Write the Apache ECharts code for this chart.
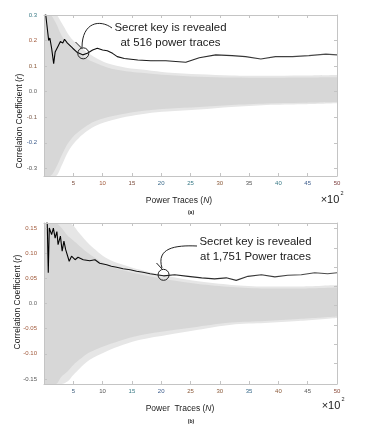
<!DOCTYPE html>
<html>
<head>
<meta charset="utf-8">
<script src="https://cdn.jsdelivr.net/npm/echarts@6/dist/echarts.min.js"></script>
<style>
  html, body { margin: 0; padding: 0; background: #fff; }
  #chart { width: 375px; height: 428px; }
</style>
</head>
<body>
<div id="chart"></div>
<script>
// x axis: power traces, in units of 10^2
var xTicks = [5, 10, 15, 20, 25, 30, 35, 40, 45, 50];
var yTicksA = [-0.3, -0.2, -0.1, 0, 0.1, 0.2, 0.3];
var yTicksB = [-0.15, -0.10, -0.05, 0, 0.05, 0.10, 0.15];
var yTicksBRight = [0.15, 0.11, 0.072, 0.035, -0.003, -0.043, -0.081, -0.119];

// (a) correct key trace
var traceA_N = [0.2, 0.5, 0.8, 1.0, 1.3, 1.65, 1.9, 2.1, 2.4, 2.8, 3.2, 3.5, 4.0, 4.9, 5.7, 6.6, 7.4, 8.3, 9.1, 10, 10.8, 11.7, 12.5, 13.7, 16, 18.2, 20.8, 22.5, 24.2, 26.5, 29.3, 32.1, 34.4, 37, 39.5, 42.4, 45.2, 48.1, 50];
var traceA_r = [0.32, 0.26, 0.2, 0.21, 0.17, 0.11, 0.155, 0.15, 0.178, 0.196, 0.19, 0.205, 0.19, 0.17, 0.153, 0.144, 0.15, 0.163, 0.17, 0.163, 0.16, 0.15, 0.137, 0.13, 0.124, 0.121, 0.121, 0.118, 0.115, 0.133, 0.144, 0.141, 0.137, 0.128, 0.137, 0.137, 0.141, 0.147, 0.144];
// (a) wrong key hypotheses: envelope of the grey traces
var envA_N = [0, 1, 2, 3, 4, 5, 6, 7, 8.5, 10.8, 14, 17.5, 21, 26.5, 32, 38, 44, 50];
var envA_outerHi = [0.3, 0.3, 0.3, 0.27, 0.23, 0.2, 0.18, 0.16, 0.137, 0.111, 0.094, 0.085, 0.075, 0.068, 0.063, 0.062, 0.063, 0.065];
var envA_outerLo = [-0.33, -0.33, -0.33, -0.29, -0.24, -0.205, -0.18, -0.16, -0.137, -0.117, -0.098, -0.085, -0.078, -0.07, -0.06, -0.052, -0.049, -0.045];
var envA_innerHi = [0.3, 0.3, 0.27, 0.22, 0.19, 0.165, 0.148, 0.133, 0.115, 0.095, 0.08, 0.072, 0.065, 0.058, 0.055, 0.054, 0.055, 0.056];
var envA_innerLo = [-0.33, -0.33, -0.3, -0.25, -0.205, -0.175, -0.155, -0.138, -0.118, -0.1, -0.085, -0.074, -0.067, -0.06, -0.052, -0.046, -0.043, -0.04];
var revealA = [6.7, 0.15];

// (b) correct key trace
var traceB_N = [0.4, 0.56, 0.73, 0.9, 1.3, 1.6, 1.9, 2.2, 2.4, 2.8, 3.1, 3.4, 3.7, 4.3, 4.7, 5.0, 5.3, 5.8, 6.7, 7.8, 8.7, 9.5, 10.7, 11.5, 12.4, 13.5, 14.7, 15.8, 16.9, 18.1, 19.2, 20.4, 22.3, 24.6, 26.9, 29.1, 31.1, 32.8, 34.8, 37.1, 39.4, 41.6, 43.9, 46.2, 48.4, 50];
var traceB_r = [0.17, 0.157, 0.061, 0.15, 0.137, 0.15, 0.13, 0.143, 0.117, 0.134, 0.104, 0.124, 0.107, 0.084, 0.094, 0.097, 0.087, 0.092, 0.087, 0.085, 0.087, 0.08, 0.077, 0.074, 0.072, 0.069, 0.067, 0.064, 0.062, 0.059, 0.057, 0.055, 0.057, 0.054, 0.051, 0.049, 0.051, 0.046, 0.054, 0.057, 0.053, 0.056, 0.057, 0.061, 0.059, 0.061];
var envB_N = [0, 1, 2, 3, 4, 5, 6, 7.8, 10.7, 13.5, 16.4, 21.2, 26.3, 32, 37.7, 43.4, 50];
var envB_outerHi = [0.16, 0.16, 0.16, 0.16, 0.16, 0.155, 0.14, 0.117, 0.09, 0.077, 0.067, 0.054, 0.044, 0.037, 0.034, 0.034, 0.037];
var envB_outerLo = [-0.16, -0.16, -0.16, -0.16, -0.155, -0.142, -0.13, -0.112, -0.095, -0.082, -0.072, -0.062, -0.052, -0.042, -0.039, -0.035, -0.029];
var envB_innerHi = [0.16, 0.16, 0.16, 0.15, 0.135, 0.125, 0.115, 0.098, 0.077, 0.066, 0.058, 0.047, 0.039, 0.033, 0.03, 0.03, 0.032];
var envB_innerLo = [-0.16, -0.16, -0.16, -0.145, -0.135, -0.122, -0.112, -0.097, -0.083, -0.072, -0.063, -0.054, -0.046, -0.038, -0.035, -0.031, -0.026];
var revealB = [20.4, 0.057];

var FONT = "'Liberation Sans', Arial, sans-serif";
var boxColor = "#c4c4c4";

// jpeg-ish colour tint of the tick labels in the original figure
var tintA_x = { 5: "#7a4a3a", 10: "#a0583a", 15: "#7a4a3a", 20: "#3a6a8a", 25: "#3a7a86", 30: "#8a5a3a", 35: "#555", 40: "#3a7a86", 45: "#3a5a8a", 50: "#7a3a3a" };
var tintB_x = { 5: "#3a5a7a", 10: "#555", 15: "#3a7a86", 20: "#3a5a8a", 25: "#8a5a3a", 30: "#8a5a3a", 35: "#3a6a8a", 40: "#8a5a3a", 45: "#555", 50: "#8a4a3a" };
var tintA_y = { "0.3": "#3a7a86", "0.2": "#a0583a", "0.1": "#8a5a3a", "0.0": "#666", "-0.1": "#7a5a4a", "-0.2": "#3a5a8a", "-0.3": "#555" };
var tintB_y = { "0.15": "#a0583a", "0.10": "#a0583a", "0.05": "#9a5030", "0.0": "#666", "-0.05": "#a0583a", "-0.10": "#a0583a", "-0.15": "#555" };

function pairs(xs, ys) {
  var out = [];
  for (var i = 0; i < xs.length; i++) out.push([xs[i], ys[i]]);
  return out;
}
function richFor(map) {
  var rich = {};
  var k = 0;
  for (var key in map) {
    rich["c" + k] = { color: map[key], fontSize: 6, fontFamily: FONT };
    k++;
  }
  return rich;
}
function tinted(map, txt) {
  var keys = Object.keys(map);
  var i = keys.indexOf(txt);
  return i < 0 ? txt : "{c" + i + "|" + txt + "}";
}

function xAxes(gridIndex, tint) {
  return [
    {
      type: "value", gridIndex: gridIndex, min: 0, max: 50, interval: 5, z: 10,
      axisLine: { onZero: false, lineStyle: { color: boxColor } },
      axisTick: { inside: true, length: 3, lineStyle: { color: boxColor } },
      axisLabel: {
        fontSize: 6, fontFamily: FONT, color: "#555", margin: 4,
        showMinLabel: false, rich: richFor(tint),
        formatter: function (v) { return v === 0 ? "" : tinted(tint, String(v)); }
      },
      splitLine: { show: false }
    },
    {
      type: "value", gridIndex: gridIndex, position: "top", min: 0, max: 50, interval: 5, z: 10,
      axisLine: { onZero: false, lineStyle: { color: boxColor } },
      axisTick: { inside: true, length: 3, lineStyle: { color: boxColor } },
      axisLabel: { show: false },
      splitLine: { show: false }
    }
  ];
}

function yAxes(gridIndex, min, max, ticks, rightTicks, fmt, tint) {
  return [
    {
      type: "value", gridIndex: gridIndex, min: min, max: max, z: 10,
      axisLine: { show: true, onZero: false, lineStyle: { color: boxColor } },
      axisTick: { show: true, inside: true, length: 3, customValues: ticks, lineStyle: { color: boxColor } },
      axisLabel: {
        fontSize: 6, fontFamily: FONT, color: "#555", margin: 7,
        customValues: ticks, rich: richFor(tint),
        formatter: function (v) { return tinted(tint, fmt(v)); }
      },
      splitLine: { show: false }
    },
    {
      type: "value", gridIndex: gridIndex, position: "right", min: min, max: max, z: 10,
      axisLine: { show: true, onZero: false, lineStyle: { color: boxColor } },
      axisTick: { show: true, inside: true, length: 3, customValues: rightTicks, lineStyle: { color: boxColor } },
      axisLabel: { show: false },
      splitLine: { show: false }
    }
  ];
}

// filled from a curve down to the bottom of the plot; layered to build the band
function fillDown(xi, yi, xs, ys, color) {
  return {
    type: "line", xAxisIndex: xi, yAxisIndex: yi, symbol: "none", silent: true,
    smooth: 0.3,
    lineStyle: { width: 0, opacity: 0 },
    areaStyle: { color: color, opacity: 1, origin: "start" },
    data: pairs(xs, ys), z: 1
  };
}

function bandLayers(xi, yi, xs, outerHi, innerHi, innerLo, outerLo) {
  return [
    fillDown(xi, yi, xs, outerHi, "#e6e6e6"),
    fillDown(xi, yi, xs, innerHi, "#d7d7d7"),
    fillDown(xi, yi, xs, innerLo, "#e6e6e6"),
    fillDown(xi, yi, xs, outerLo, "#ffffff")
  ];
}

function traceSeries(xi, yi, xs, ys, reveal) {
  return {
    type: "line", xAxisIndex: xi, yAxisIndex: yi, symbol: "none", silent: true,
    lineStyle: {
      width: 1.1,
      color: new echarts.graphic.LinearGradient(0, 0, 1, 0, [
        { offset: 0, color: "#000" },
        { offset: 1, color: "#505050" }
      ])
    },
    data: pairs(xs, ys),
    z: 3,
    markPoint: {
      symbol: "circle", symbolSize: 11, silent: true,
      itemStyle: { color: "rgba(0,0,0,0)", borderColor: "#222", borderWidth: 1 },
      label: { show: false },
      data: [{ coord: reveal }]
    }
  };
}

function txt(x, y, text, size, extra, rotation) {
  var style = {
    text: text, x: 0, y: 0, fill: "#1a1a1a",
    fontSize: size, fontFamily: FONT,
    align: "center", verticalAlign: "middle",
    textAlign: "center", textVerticalAlign: "middle",
    rich: { i: { fontStyle: "italic", fontSize: size, fontFamily: FONT, fill: "#1a1a1a" } }
  };
  for (var k in extra) style[k] = extra[k];
  return { type: "text", x: x, y: y, rotation: rotation || 0, silent: true, z: 20, style: style };
}

var chart = echarts.init(document.getElementById("chart"));

var option = {
  animation: false,
  backgroundColor: "#fff",
  grid: [
    { left: 44, top: 15, width: 293, height: 161 },
    { left: 44, top: 223, width: 293, height: 161 }
  ],
  xAxis: xAxes(0, tintA_x).concat(xAxes(1, tintB_x)),
  yAxis: yAxes(0, -0.33, 0.3, yTicksA, yTicksA,
      function (v) { return v.toFixed(1); }, tintA_y)
    .concat(yAxes(1, -0.16, 0.16, yTicksB, yTicksBRight,
      function (v) { return v === 0 ? "0.0" : v.toFixed(2); }, tintB_y)),
  series: []
    .concat(bandLayers(0, 0, envA_N, envA_outerHi, envA_innerHi, envA_innerLo, envA_outerLo))
    .concat([traceSeries(0, 0, traceA_N, traceA_r, revealA)])
    .concat(bandLayers(2, 2, envB_N, envB_outerHi, envB_innerHi, envB_innerLo, envB_outerLo))
    .concat([traceSeries(2, 2, traceB_N, traceB_r, revealB)]),
  graphic: [
    // (a) labels
    txt(20, 121, "Correlation Coefficient ({i|r})", 8.5, {}, Math.PI / 2),
    txt(179, 201, "Power Traces ({i|N})", 8.5, {}),
    txt(330, 200, "\u00d710", 11, {}),
    txt(342, 193, "2", 5.5, {}),
    txt(191, 213, "(a)", 5, { fontWeight: "bold" }),
    txt(170.5, 28, "Secret key is revealed", 11.4, {}),
    txt(170.5, 43, "at 516 power traces", 11.4, {}),
    {
      type: "bezierCurve", silent: true, z: 20,
      shape: { x1: 112, y1: 28, cpx1: 100, cpy1: 19, cpx2: 82, cpy2: 22, x2: 82, y2: 47.5 },
      style: { stroke: "#222", lineWidth: 1, fill: null }
    },
    {
      type: "line", silent: true, z: 20,
      shape: { x1: 75.5, y1: 42, x2: 82, y2: 48.5 },
      style: { stroke: "#222", lineWidth: 1 }
    },
    // (b) labels
    txt(18, 302, "Correlation Coefficient ({i|r})", 8.5, {}, Math.PI / 2),
    txt(180, 409, "Power  Traces ({i|N})", 8.5, {}),
    txt(331, 406, "\u00d710", 11, {}),
    txt(343, 399, "2", 5.5, {}),
    txt(191, 422, "(b)", 5, { fontWeight: "bold" }),
    txt(255.5, 242, "Secret key is revealed", 11.4, {}),
    txt(255.5, 257, "at 1,751 Power traces", 11.4, {}),
    {
      type: "bezierCurve", silent: true, z: 20,
      shape: { x1: 197, y1: 246, cpx1: 175, cpy1: 245, cpx2: 156, cpy2: 248, x2: 162, y2: 268 },
      style: { stroke: "#222", lineWidth: 1, fill: null }
    },
    {
      type: "line", silent: true, z: 20,
      shape: { x1: 156.5, y1: 263, x2: 162.5, y2: 269.5 },
      style: { stroke: "#222", lineWidth: 1 }
    }
  ]
};

chart.setOption(option);
</script>
</body>
</html>
